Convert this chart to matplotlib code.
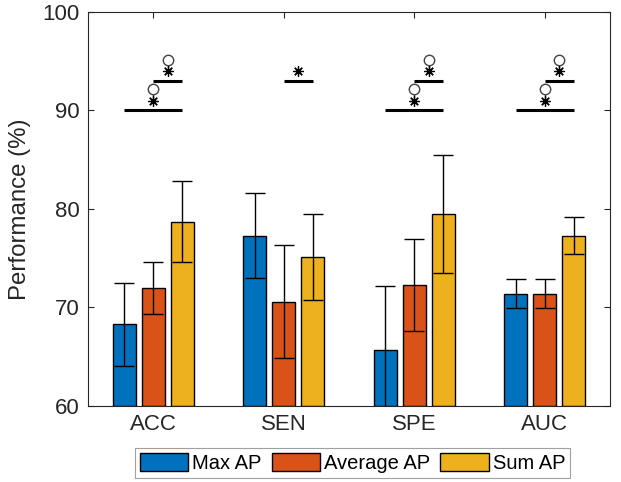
import matplotlib
matplotlib.use("Agg")
import matplotlib.pyplot as plt
import numpy as np

plt.rcParams["font.family"] = ["Liberation Sans", "DejaVu Sans"]

categories = ["ACC", "SEN", "SPE", "AUC"]
series_names = ["Max AP", "Average AP", "Sum AP"]
max_ap = [68.3, 77.3, 65.7, 71.4]
max_err = [4.2, 4.3, 6.5, 1.45]
avg_ap = [72.0, 70.6, 72.3, 71.4]
avg_err = [2.65, 5.75, 4.7, 1.45]
sum_ap = [78.7, 75.1, 79.5, 77.3]
sum_err = [4.1, 4.35, 6.0, 1.9]

# significance bars: (group, series a, series b, level, with circle)
sig_bars = [
    (0, 0, 2, 90, True),
    (0, 1, 2, 93, True),
    (1, 1, 2, 93, False),
    (2, 0, 2, 90, True),
    (2, 1, 2, 93, True),
    (3, 0, 2, 90, True),
    (3, 1, 2, 93, True),
]

colors = ["#0072BD", "#D95319", "#EDB120"]
axcol = "#262626"

fig = plt.figure(figsize=(6.21, 4.82), dpi=100)
ax = fig.add_axes([0.1417, 0.1577, 0.8406, 0.8174])

x = np.arange(1, len(categories) + 1)
offset = 0.2222
width = 0.178
values = [max_ap, avg_ap, sum_ap]
errors = [max_err, avg_err, sum_err]

handles = []
for i, (vals, errs) in enumerate(zip(values, errors)):
    xs = x + (i - 1) * offset
    b = ax.bar(xs, np.array(vals) - 60, width, bottom=60, color=colors[i],
               edgecolor="black", linewidth=1.0, label=series_names[i], zorder=2)
    ax.errorbar(xs, vals, yerr=errs, fmt="none", ecolor="black",
                elinewidth=1.0, capsize=7.5, capthick=1.0, zorder=3)
    handles.append(b)

for g, a, bb, level, circ in sig_bars:
    xa = x[g] + (a - 1) * offset
    xb = x[g] + (bb - 1) * offset
    ax.plot([xa, xb], [level, level], color="black", lw=2.2,
            solid_capstyle="butt", zorder=4)
    xm = (xa + xb) / 2
    if circ:
        ax.plot([xm, xm], [level + 1.0, level + 1.8], color="#333333",
                lw=1.0, zorder=4)
        ax.plot(xm, level + 2.15, marker="o", ms=7.5, mfc="white",
                mec="#444444", mew=1.0, zorder=5)
    ax.plot(xm, level + 1.0, marker=(8, 2, 0), ms=7.5, color="black",
            mew=0.9, zorder=5)

ax.set_xlim(0.5, 4.5)
ax.set_ylim(60, 100)
ax.set_xticks(x)
ax.set_xticklabels(categories)
ax.set_yticks([60, 70, 80, 90, 100])
ax.set_ylabel("Performance (%)", fontsize=17.3, color=axcol, labelpad=8)
ax.tick_params(direction="in", length=4, width=0.8, colors=axcol,
               labelsize=16, top=True, right=True, pad=6)
for s in ax.spines.values():
    s.set_color(axcol)
    s.set_linewidth(0.8)

leg = fig.legend(handles=handles, loc="center", bbox_to_anchor=(0.568, 0.039),
                 ncol=3, fontsize=14.5, frameon=True, fancybox=False,
                 handlelength=2.4, handleheight=1.0, handletextpad=0.2,
                 columnspacing=0.5, borderpad=0.25, borderaxespad=0)
leg.get_frame().set_edgecolor("#888888")
leg.get_frame().set_linewidth(0.8)
for t in leg.get_texts():
    t.set_color("black")

fig.savefig("out.png", dpi=100)
